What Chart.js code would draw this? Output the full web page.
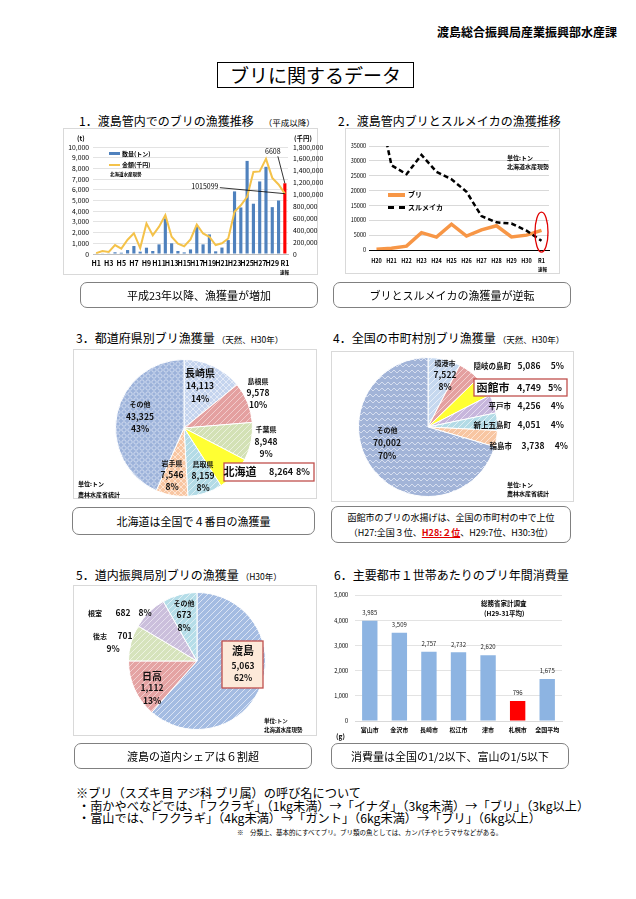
<!DOCTYPE html>
<html lang="ja">
<head>
<meta charset="utf-8">
<title>ブリに関するデータ</title>
<script src="https://cdn.jsdelivr.net/npm/chart.js@4.4.1/dist/chart.umd.min.js"></script>
<style>
  html, body { margin: 0; padding: 0; background: #fff; }
  body { width: 636px; height: 899px; position: relative; overflow: hidden;
         font-family: "Noto Sans CJK JP", "Noto Sans", sans-serif; color: #000; }
  .t { position: absolute; white-space: nowrap; }
  .frame { position: absolute; border: 1px solid #d9d9d9; box-sizing: border-box; }
  .note { position: absolute; border: 1.5px solid #808080; border-radius: 7px; box-sizing: border-box;
          display: flex; flex-direction: column; align-items: center; justify-content: center;
          font-size: 11px; line-height: 16px; white-space: nowrap; }
  .sec { position: absolute; font-size: 12px; line-height: 16px; white-space: nowrap; }
  .sec small { font-size: 8.5px; margin-left: 10px; }
  .tiny { position: absolute; font-size: 5.5px; font-weight: bold; line-height: 9px; white-space: nowrap; }
  canvas { position: absolute; }
</style>
</head>
<body>

<!-- ── Header ─────────────────────────────────────────────────── -->
<div class="t" style="left:437px; top:25px; font-size:12px; font-weight:bold; line-height:14px;">渡島総合振興局産業振興部水産課</div>
<div class="t" style="left:217px; top:62px; width:197px; height:26px; border:1.5px solid #000; box-sizing:border-box;
     font-size:19px; line-height:23px; text-align:center;">ブリに関するデータ</div>

<!-- ── Section titles ─────────────────────────────────────────── -->
<div class="sec" style="left:79px; top:113px;">1．渡島管内でのブリの漁獲推移<small>（平成以降）</small></div>
<div class="sec" style="left:338px; top:113px;">2．渡島管内ブリとスルメイカの漁獲推移</div>
<div class="sec" style="left:76px; top:330px;">3．都道府県別ブリ漁獲量<small style="margin-left:2px">（天然、H30年）</small></div>
<div class="sec" style="left:333px; top:330px;">4．全国の市町村別ブリ漁獲量<small style="margin-left:2px">（天然、H30年）</small></div>
<div class="sec" style="left:76px; top:567px;">5．道内振興局別ブリの漁獲量<small style="margin-left:2px">（H30年）</small></div>
<div class="sec" style="left:334px; top:567px;">6．主要都市１世帯あたりのブリ年間消費量</div>

<!-- ── Frames ─────────────────────────────────────────────────── -->
<div class="frame" style="left:63px; top:128px; width:255px; height:147px;"></div>
<div class="frame" style="left:345px; top:128px; width:215px; height:146px;"></div>
<div class="frame" style="left:73px; top:349px; width:244px; height:150px;"></div>
<div class="frame" style="left:331px; top:351px; width:243px; height:151px;"></div>
<div class="frame" style="left:73px; top:585px; width:244px; height:151px;"></div>

<!-- ── Canvases ───────────────────────────────────────────────── -->
<canvas id="c1" width="273" height="147" style="left:55px; top:128px;"></canvas>
<canvas id="c2" width="215" height="147" style="left:345px; top:128px;"></canvas>
<canvas id="c3" width="244" height="150" style="left:73px; top:349px;"></canvas>
<canvas id="c4" width="243" height="150" style="left:331px; top:351px;"></canvas>
<canvas id="c5" width="244" height="151" style="left:73px; top:585px;"></canvas>
<canvas id="c6" width="245" height="152" style="left:325px; top:585px;"></canvas>

<!-- ── Chart 1 extras ─────────────────────────────────────────── -->
<div class="tiny" style="left:77px; top:134px; font-size:6.5px;">(t)</div>
<div class="tiny" style="left:294px; top:134px; font-size:6.5px;">(千円)</div>
<div style="position:absolute; left:109px; top:152px; width:11px; height:3px; background:#4f81bd;"></div>
<div class="tiny" style="left:122px; top:149px; font-size:6px;">数量(トン)</div>
<div style="position:absolute; left:109px; top:164px; width:11px; height:2px; background:#f4c24a;"></div>
<div class="tiny" style="left:122px; top:160px; font-size:6px;">金額(千円)</div>
<div class="tiny" style="left:110px; top:170px; font-size:4.5px;">北海道水産現勢</div>
<div class="tiny" style="left:280px; top:268px; font-size:4.5px;">速報</div>

<!-- ── Chart 2 extras ─────────────────────────────────────────── -->
<div style="position:absolute; left:388px; top:193px; width:17px; height:4px; background:#f79646;"></div>
<div class="tiny" style="left:408px; top:190px; font-size:7px;">ブリ</div>
<div style="position:absolute; left:388px; top:206px; width:17px; border-top:3px dashed #000;"></div>
<div class="tiny" style="left:408px; top:203px; font-size:7px;">スルメイカ</div>
<div class="tiny" style="left:507px; top:153px; font-size:6px;">単位:トン</div>
<div class="tiny" style="left:507px; top:162px; font-size:6px;">北海道水産現勢</div>
<div class="tiny" style="left:538px; top:265px; font-size:4.5px;">速報</div>

<!-- ── Pie extras ─────────────────────────────────────────────── -->
<div class="tiny" style="left:78px; top:479px; font-size:6px;">単位:トン</div>
<div class="tiny" style="left:78px; top:490px; font-size:6px;">農林水産省統計</div>
<div class="tiny" style="left:507px; top:480px; font-size:6px;">単位:トン</div>
<div class="tiny" style="left:507px; top:489px; font-size:6px;">農林水産省統計</div>
<div class="tiny" style="left:264px; top:717px; font-size:5.5px;">単位:トン</div>
<div class="tiny" style="left:264px; top:726px; font-size:5.5px;">北海道水産現勢</div>

<!-- ── Chart 6 extras ─────────────────────────────────────────── -->
<div class="tiny" style="left:336px; top:732px; font-size:6.5px;">(g)</div>
<div class="tiny" style="left:481px; top:599px; font-size:6.5px;">総務省家計調査</div>
<div class="tiny" style="left:484px; top:609px; font-size:6.5px;">(H29-31平均)</div>

<!-- ── Summary boxes ──────────────────────────────────────────── -->
<div class="note" style="left:80px; top:282px; width:238px; height:26px;">平成23年以降、漁獲量が増加</div>
<div class="note" style="left:333px; top:282px; width:238px; height:26px;">ブリとスルメイカの漁獲量が逆転</div>
<div class="note" style="left:72px; top:507px; width:243px; height:28px;">北海道は全国で４番目の漁獲量</div>
<div class="note" style="left:331px; top:506px; width:240px; height:37px; font-size:9px; line-height:15px;">
  <div>函館市のブリの水揚げは、全国の市町村の中で上位</div>
  <div>（H27:全国３位、<span style="color:#e00000; font-weight:bold; text-decoration:underline;">H28:２位</span>、H29:7位、H30:3位）</div>
</div>
<div class="note" style="left:74px; top:743px; width:238px; height:26px;">渡島の道内シェアは６割超</div>
<div class="note" style="left:331px; top:743px; width:238px; height:26px;">消費量は全国の1/2以下、富山の1/5以下</div>

<!-- ── Footnotes ──────────────────────────────────────────────── -->
<div class="t" style="left:76px; top:785px; font-size:12.2px; line-height:16px;">※ブリ（スズキ目 アジ科 ブリ属）の呼び名について</div>
<div class="t" style="left:78px; top:798px; font-size:12.2px; line-height:16px;">・南かやべなどでは、「フクラギ」（1kg未満）→「イナダ」（3kg未満）→「ブリ」（3kg以上）</div>
<div class="t" style="left:78px; top:810px; font-size:12.2px; line-height:16px;">・富山では、「フクラギ」（4kg未満）→「ガント」（6kg未満）→「ブリ」（6kg以上）</div>
<div class="t" style="left:237px; top:827px; font-size:6.5px; line-height:10px;">※　分類上、基本的にすべてブリ。ブリ類の魚としては、カンパチやヒラマサなどがある。</div>

<script>
// ── Data ──────────────────────────────────────────────────────────────────
// 1. Oshima buri catch since H1
const years = ['H1','H2','H3','H4','H5','H6','H7','H8','H9','H10','H11','H12','H13','H14','H15',
               'H16','H17','H18','H19','H20','H21','H22','H23','H24','H25','H26','H27','H28','H29','H30','R1'];
const catchTons  = [40, 60, 30, 160, 120, 370, 750, 220, 590, 280, 900, 3320, 1000, 280, 150,
                    430, 2640, 900, 1830, 250, 600, 1300, 5850, 4350, 8700, 4700, 6780, 8150, 4380, 5000, 6608];
const catchValue = [15000, 50000, 35000, 150000, 90000, 240000, 350000, 100000, 515000, 315000, 460000,
                    655000, 290000, 175000, 130000, 245000, 495000, 345000, 290000, 150000, 180000, 260000,
                    710000, 820000, 960000, 1380000, 1390000, 1600000, 1280000, 1170000, 1015099];

// 2. buri vs surumeika (H20 - R1)
const recentYears = ['H20','H21','H22','H23','H24','H25','H26','H27','H28','H29','H30','R1'];
const buriRecent  = catchTons.slice(19);
const surumeika   = [52000, 28500, 25500, 32000, 26300, 23800, 19600, 11400, 9300, 8900, 6500, 3100];

// 3. prefectures (H30)
const prefNames = ['長崎県','島根県','千葉県','北海道','鳥取県','岩手県','その他'];
const prefTons  = [14113, 9578, 8948, 8264, 8159, 7546, 43325];
const prefPct   = [14, 10, 9, 8, 8, 8, 43];

// 4. municipalities (H30)
const cityNames = ['境港市','隠岐の島町','函館市','平戸市','新上五島町','輪島市','その他'];
const cityTons  = [7522, 5086, 4749, 4256, 4051, 3738, 70002];
const cityPct   = [8, 5, 5, 4, 4, 4, 70];

// 5. Hokkaido subprefectures (H30)
const areaNames = ['渡島','日高','後志','根室','その他'];
const areaTons  = [5063, 1112, 701, 682, 673];
const areaPct   = [62, 13, 9, 8, 8];

// 6. household consumption (g)
const cities6     = ['富山市','金沢市','長崎市','松江市','津市','札幌市','全国平均'];
const consumption = [3985, 3509, 2757, 2732, 2620, 796, 1675];

// ── Helpers ───────────────────────────────────────────────────────────────
const FONT = '"Noto Sans CJK JP", "Noto Sans", sans-serif';
const fmt = v => Number(v).toLocaleString('en-US');
const f = (size, bold = true) => `${bold ? 'bold ' : ''}${size}px ${FONT}`;

Chart.defaults.font.family = FONT;
Chart.defaults.color = '#000';
Chart.defaults.animation = false;
Chart.defaults.plugins.legend.display = false;
Chart.defaults.plugins.tooltip.enabled = false;

/** small repeating fill used for the textured pie slices */
function pattern(bg, fg, kind) {
  const c = document.createElement('canvas');
  c.width = 6; c.height = 6;
  const g = c.getContext('2d');
  g.fillStyle = bg; g.fillRect(0, 0, 6, 6);
  g.strokeStyle = fg; g.lineWidth = 1;
  g.beginPath();
  if (kind === 'ring') {
    g.arc(3, 3, 2.2, 0, Math.PI * 2);
  } else if (kind === 'zig') {
    g.moveTo(0, 4); g.lineTo(3, 1); g.lineTo(6, 4);
  } else {
    g.moveTo(0, 6); g.lineTo(6, 0);
    g.moveTo(-1, 1); g.lineTo(1, -1);
    g.moveTo(5, 7); g.lineTo(7, 5);
    if (kind === 'cross') { g.moveTo(0, 0); g.lineTo(6, 6); }
  }
  g.stroke();
  return g.createPattern(c, 'repeat');
}

// fixed axis sizes so the plot areas land where the original has them
const fitW = w => a => { a.width = w; };
const fitH = h => a => { a.height = h; };

// ── Plugins ───────────────────────────────────────────────────────────────

// leader-line callouts pointing at a data element
const callouts = {
  id: 'callouts',
  afterDatasetsDraw(chart, args, opts) {
    const { ctx } = chart;
    ctx.save();
    (opts.items || []).forEach(it => {
      const el = chart.getDatasetMeta(it.dataset).data[it.index];
      ctx.strokeStyle = '#000'; ctx.lineWidth = 0.8;
      ctx.beginPath();
      ctx.moveTo(el.x + it.ldx, el.y + it.ldy);
      ctx.lineTo(el.x, el.y);
      ctx.stroke();
      ctx.font = it.font; ctx.fillStyle = '#000';
      ctx.textAlign = 'center'; ctx.textBaseline = 'middle';
      ctx.fillText(it.text, el.x + it.tdx, el.y + it.tdy);
    });
    ctx.restore();
  }
};

// red ellipse round the last category of chart 2
const ringLast = {
  id: 'ringLast',
  afterDatasetsDraw(chart, args, opts) {
    const { ctx, scales } = chart;
    const x = scales.x.getPixelForValue(chart.data.labels.length - 1);
    const y = scales.y.getPixelForValue(opts.value);
    ctx.save();
    ctx.strokeStyle = '#e00000'; ctx.lineWidth = 1.3;
    ctx.beginPath();
    ctx.ellipse(x, y, opts.rx, opts.ry, 0, 0, Math.PI * 2);
    ctx.stroke();
    ctx.restore();
  }
};

// text labels placed relative to the pie centre
const sliceLabels = {
  id: 'sliceLabels',
  afterDatasetsDraw(chart, args, opts) {
    const arc = chart.getDatasetMeta(0).data[0];
    const { ctx } = chart;
    ctx.save();
    (opts.boxes || []).forEach(b => {
      ctx.fillStyle = b.fill;
      ctx.strokeStyle = '#c0504d'; ctx.lineWidth = 1.3;
      ctx.fillRect(arc.x + b.x0, arc.y + b.y0, b.x1 - b.x0, b.y1 - b.y0);
      ctx.strokeRect(arc.x + b.x0, arc.y + b.y0, b.x1 - b.x0, b.y1 - b.y0);
    });
    ctx.fillStyle = '#111'; ctx.textBaseline = 'middle';
    (opts.items || []).forEach(it => {
      ctx.font = it.font; ctx.textAlign = it.align || 'center';
      ctx.fillText(it.t, arc.x + it.dx, arc.y + it.dy);
    });
    ctx.restore();
  }
};

// value labels above bars
const barValues = {
  id: 'barValues',
  afterDatasetsDraw(chart, args, opts) {
    const { ctx } = chart;
    const ds = chart.data.datasets[0];
    ctx.save();
    ctx.font = opts.font; ctx.fillStyle = '#222';
    ctx.textAlign = 'center'; ctx.textBaseline = 'bottom';
    chart.getDatasetMeta(0).data.forEach((bar, i) => {
      ctx.fillText(fmt(ds.data[i]), bar.x, bar.y - 5);
    });
    ctx.restore();
  }
};

// 3-line label: name / value / percent
function stack(names, vals, pcts, i, dx, dys, nameSize, numSize) {
  return [
    { t: names[i], dx, dy: dys[0], font: f(nameSize) },
    { t: fmt(vals[i]), dx, dy: dys[1], font: f(numSize) },
    { t: pcts[i] + '%', dx, dy: dys[2], font: f(numSize) },
  ];
}
// 1-line label: name (right aligned) / value / percent (right aligned)
function row(names, vals, pcts, i, dy, cols, nameSize, numSize) {
  return [
    { t: names[i], dx: cols[0], dy, font: f(nameSize), align: 'right' },
    { t: fmt(vals[i]), dx: cols[1], dy, font: f(numSize) },
    { t: pcts[i] + '%', dx: cols[2], dy, font: f(numSize), align: 'right' },
  ];
}

// ── Chart 1: catch volume & value ─────────────────────────────────────────
new Chart(document.getElementById('c1'), {
  type: 'bar',
  data: {
    labels: years,
    datasets: [
      { type: 'line', label: '金額(千円)', data: catchValue, yAxisID: 'y1',
        borderColor: '#f4c24a', borderWidth: 2, pointRadius: 0, tension: 0, order: 0 },
      { type: 'bar', label: '数量(トン)', data: catchTons, yAxisID: 'y',
        backgroundColor: years.map(y => (y === 'R1' ? '#ff0000' : '#4f81bd')),
        categoryPercentage: 1, barPercentage: 0.5, order: 1 },
    ],
  },
  options: {
    responsive: false,
    layout: { padding: { top: 19 } },
    scales: {
      x: {
        grid: { display: false, drawTicks: false }, border: { color: '#bfbfbf' },
        ticks: { autoSkip: false, maxRotation: 0, padding: 5, font: { size: 7, weight: 'bold' },
                 callback: (v, i) => (i % 2 === 0 ? years[i] : '') },
        afterFit: fitH(21),
      },
      y: {
        min: 0, max: 10000,
        ticks: { stepSize: 1000, autoSkip: false, padding: 4, font: { size: 6.8 }, callback: v => fmt(v) },
        grid: { color: '#e3e3e3', drawTicks: false }, border: { display: false },
        afterFit: fitW(38),
      },
      y1: {
        position: 'right', min: 0, max: 1800000,
        ticks: { stepSize: 200000, autoSkip: false, padding: 5, font: { size: 6.8 }, callback: v => fmt(v) },
        grid: { display: false, drawTicks: false }, border: { display: false },
        afterFit: fitW(40),
      },
    },
    plugins: {
      callouts: {
        items: [
          { dataset: 1, index: 30, text: '6608', font: f(7, false), tdx: -12, tdy: -32, ldx: -7, ldy: -27 },
          { dataset: 0, index: 30, text: '1015099', font: f(7, false), tdx: -80, tdy: -7, ldx: -65, ldy: -6 },
        ],
      },
    },
  },
  plugins: [callouts],
});

// ── Chart 2: buri vs surumeika ────────────────────────────────────────────
new Chart(document.getElementById('c2'), {
  type: 'line',
  data: {
    labels: recentYears,
    datasets: [
      { label: 'ブリ', data: buriRecent, borderColor: '#f79646', borderWidth: 3.5,
        pointRadius: 0, tension: 0, order: 1 },
      { label: 'スルメイカ', data: surumeika, borderColor: '#000', borderWidth: 2.5,
        borderDash: [5, 3], pointRadius: 0, tension: 0, order: 0 },
    ],
  },
  options: {
    responsive: false,
    layout: { padding: { top: 18, right: 11 } },
    scales: {
      x: {
        offset: true, grid: { display: false, drawTicks: false }, border: { color: '#000' },
        ticks: { autoSkip: false, maxRotation: 0, padding: 8, font: { size: 5.5, weight: 'bold' } },
        afterFit: fitH(25),
      },
      y: {
        min: 0, max: 35000,
        ticks: { stepSize: 5000, autoSkip: false, padding: 3, font: { size: 5.5 }, callback: v => String(v) },
        grid: { color: '#d9d9d9', drawTicks: false }, border: { display: false },
        afterFit: fitW(24),
      },
    },
    plugins: { ringLast: { value: 6000, rx: 6.5, ry: 20 } },
  },
  plugins: [ringLast],
});

// ── Chart 3: by prefecture ────────────────────────────────────────────────
new Chart(document.getElementById('c3'), {
  type: 'pie',
  data: {
    labels: prefNames,
    datasets: [{
      data: prefTons,
      backgroundColor: [
        pattern('#c5d4ee', '#e3eaf7', 'cross'),
        pattern('#e4a0a0', '#f2cccc', 'diag'),
        pattern('#d3e1b5', '#ebf1dd', 'diag'),
        '#ffff33',
        pattern('#b3dbe6', '#dceef3', 'diag'),
        pattern('#f8c6a2', '#fde4d2', 'cross'),
        pattern('#9cb2da', '#d0dbef', 'ring'),
      ],
      borderColor: '#fff', borderWidth: 1,
    }],
  },
  options: {
    responsive: false,
    layout: { padding: { left: 42, right: 64, top: 10, bottom: 2 } },
    plugins: {
      sliceLabels: {
        boxes: [{ x0: 40, y0: 35, x1: 130, y1: 53, fill: '#fff' }],
        items: [
          ...stack(prefNames, prefTons, prefPct, 0, 16, [-55, -42, -29], 10, 8.5),
          ...stack(prefNames, prefTons, prefPct, 1, 74, [-47, -35, -23], 7, 8.5),
          ...stack(prefNames, prefTons, prefPct, 2, 82, [1, 14, 26], 7, 8.5),
          { t: prefNames[3], dx: 56, dy: 44, font: f(11) },
          { t: fmt(prefTons[3]), dx: 97, dy: 44, font: f(9) },
          { t: prefPct[3] + '%', dx: 119, dy: 44, font: f(9) },
          ...stack(prefNames, prefTons, prefPct, 4, 19, [36, 48, 60], 7, 8.5),
          ...stack(prefNames, prefTons, prefPct, 5, -12, [35, 47, 59], 7, 8.5),
          ...stack(prefNames, prefTons, prefPct, 6, -44, [-24, -11, 1], 7, 8.5),
        ],
      },
    },
  },
  plugins: [sliceLabels],
});

// ── Chart 4: by municipality ──────────────────────────────────────────────
const rowCols = [83, 101, 136];
new Chart(document.getElementById('c4'), {
  type: 'pie',
  data: {
    labels: cityNames,
    datasets: [{
      data: cityTons,
      backgroundColor: [
        pattern('#c6d8ef', '#e8eff9', 'diag'),
        pattern('#e4a0a0', '#f3d0d0', 'diag'),
        '#ffff33',
        pattern('#c7b6dc', '#e6ddf0', 'diag'),
        pattern('#b3dbe6', '#e0f0f5', 'diag'),
        pattern('#f8c6a2', '#fde4d2', 'diag'),
        pattern('#a2b4d8', '#d6deef', 'zig'),
      ],
      borderColor: '#fff', borderWidth: 1,
    }],
  },
  options: {
    responsive: false,
    layout: { padding: { left: 27, right: 76, top: 6, bottom: 4 } },
    plugins: {
      sliceLabels: {
        boxes: [{ x0: 46, y0: -48, x1: 139, y1: -31, fill: '#fff' }],
        items: [
          ...stack(cityNames, cityTons, cityPct, 0, 17, [-64, -52, -40], 7, 8.5),
          ...row(cityNames, cityTons, cityPct, 1, -61, rowCols, 7.5, 8.5),
          { t: cityNames[2], dx: 65, dy: -39.5, font: f(11) },
          { t: fmt(cityTons[2]), dx: 101, dy: -39.5, font: f(9) },
          { t: cityPct[2] + '%', dx: 134, dy: -39.5, font: f(9), align: 'right' },
          ...row(cityNames, cityTons, cityPct, 3, -21, rowCols, 7.5, 8.5),
          ...row(cityNames, cityTons, cityPct, 4, -2, rowCols, 7.5, 8.5),
          ...row(cityNames, cityTons, cityPct, 5, 19, [84, 105, 140], 7.5, 8.5),
          ...stack(cityNames, cityTons, cityPct, 6, -41, [3, 16, 29], 7, 8.5),
        ],
      },
    },
  },
  plugins: [sliceLabels],
});

// ── Chart 5: by Hokkaido subprefecture ────────────────────────────────────
new Chart(document.getElementById('c5'), {
  type: 'pie',
  data: {
    labels: areaNames,
    datasets: [{
      data: areaTons,
      backgroundColor: [
        pattern('#a4bce2', '#dbe4f4', 'diag'),
        pattern('#e4a3a3', '#f3d0d0', 'diag'),
        pattern('#d6e3bc', '#edf3e1', 'diag'),
        pattern('#cbbfdc', '#e6e0ef', 'diag'),
        pattern('#b5dde8', '#e0f0f5', 'diag'),
      ],
      borderColor: '#fff', borderWidth: 1,
    }],
  },
  options: {
    responsive: false,
    layout: { padding: { left: 55, right: 51, top: 7, bottom: 6 } },
    plugins: {
      sliceLabels: {
        boxes: [{ x0: 25, y0: -20, x1: 66, y1: 27, fill: '#fde9d9' }],
        items: [
          ...stack(areaNames, areaTons, areaPct, 0, 46, [-10, 5, 17], 11, 8.5),
          ...stack(areaNames, areaTons, areaPct, 1, -45, [15, 27, 40], 10, 8.5),
          { t: areaNames[2], dx: -97, dy: -25, font: f(7) },
          { t: fmt(areaTons[2]), dx: -72, dy: -25, font: f(8.5) },
          { t: areaPct[2] + '%', dx: -84, dy: -12, font: f(8.5) },
          { t: areaNames[3], dx: -102, dy: -48, font: f(7) },
          { t: fmt(areaTons[3]), dx: -74, dy: -48, font: f(8.5) },
          { t: areaPct[3] + '%', dx: -52, dy: -48, font: f(8.5) },
          ...stack(areaNames, areaTons, areaPct, 4, -13, [-58, -46, -33], 7, 8.5),
        ],
      },
    },
  },
  plugins: [sliceLabels],
});

// ── Chart 6: household consumption ────────────────────────────────────────
new Chart(document.getElementById('c6'), {
  type: 'bar',
  data: {
    labels: cities6,
    datasets: [{
      data: consumption,
      backgroundColor: cities6.map(c => (c === '札幌市' ? '#ff0000' : '#8db4e2')),
      categoryPercentage: 1, barPercentage: 0.52,
    }],
  },
  options: {
    responsive: false,
    layout: { padding: { top: 7, right: 8 } },
    scales: {
      x: {
        grid: { display: false, drawTicks: false }, border: { color: '#d9d9d9' },
        ticks: { padding: 5, maxRotation: 0, font: { size: 6, weight: 'bold' } },
        afterFit: fitH(16),
      },
      y: {
        min: 0, max: 5000,
        ticks: { stepSize: 1000, autoSkip: false, padding: 7, font: { size: 5.5 }, callback: v => fmt(v) },
        grid: { color: '#e3e3e3', drawTicks: false }, border: { display: false },
        afterFit: fitW(30),
      },
    },
    plugins: { barValues: { font: f(6, false) } },
  },
  plugins: [barValues],
});
</script>
</body>
</html>
